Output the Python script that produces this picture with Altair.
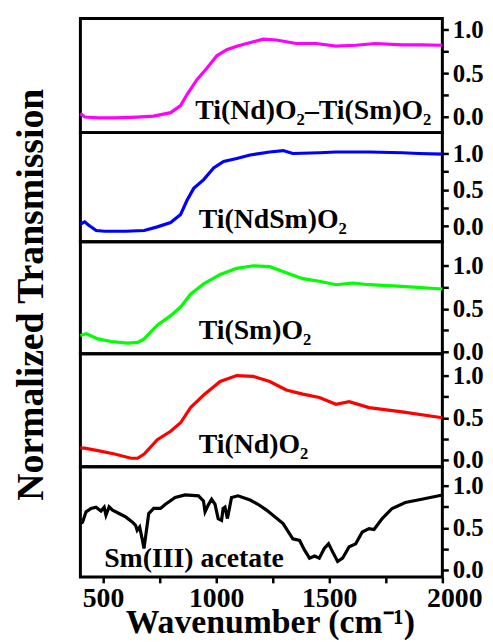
import altair as alt
import pandas as pd

FONT = "Liberation Serif, Times New Roman, Times, serif"

# ---- data ----
wn_mag = [400, 420, 480, 550, 650, 724, 799, 843, 872, 916, 960, 1003, 1047, 1091, 1164, 1208, 1267, 1354, 1442, 1530, 1617, 1705, 1822, 1909, 2000]
t_mag = [0.04, 0.0, -0.01, -0.01, 0.0, 0.01, 0.05, 0.13, 0.26, 0.43, 0.56, 0.70, 0.77, 0.81, 0.86, 0.89, 0.88, 0.84, 0.84, 0.81, 0.82, 0.84, 0.825, 0.825, 0.82]

wn_blue = [400, 419, 434, 470, 507, 600, 682, 740, 799, 843, 872, 901, 945, 989, 1033, 1091, 1150, 1237, 1296, 1339, 1456, 1530, 1676, 1822, 1895, 2000]
t_blue = [0.03, 0.06, 0.02, -0.06, -0.07, -0.07, -0.06, -0.01, 0.05, 0.16, 0.36, 0.52, 0.64, 0.80, 0.89, 0.93, 0.98, 1.02, 1.04, 1.00, 1.01, 1.02, 1.02, 1.01, 1.00, 0.99]

wn_green = [400, 426, 477, 536, 609, 653, 682, 740, 799, 843, 887, 945, 1018, 1091, 1164, 1237, 1310, 1383, 1456, 1530, 1603, 1676, 1822, 2000]
t_green = [0.19, 0.21, 0.15, 0.12, 0.10, 0.11, 0.15, 0.31, 0.42, 0.52, 0.67, 0.79, 0.90, 0.97, 1.00, 0.99, 0.92, 0.85, 0.82, 0.78, 0.80, 0.78, 0.76, 0.73]

wn_red = [400, 419, 477, 551, 624, 653, 682, 740, 799, 843, 887, 945, 1018, 1091, 1164, 1237, 1310, 1383, 1456, 1530, 1588, 1676, 1822, 2000]
t_red = [0.14, 0.14, 0.11, 0.07, 0.02, 0.02, 0.07, 0.24, 0.34, 0.44, 0.62, 0.77, 0.93, 1.00, 0.99, 0.93, 0.83, 0.78, 0.74, 0.66, 0.69, 0.62, 0.57, 0.50]

wn_blk = [400, 410, 425, 447, 469, 491, 505, 513, 527, 542, 571, 600, 629, 644, 651, 662, 673, 681, 688, 702, 724, 754, 776, 819, 863, 922, 944, 951, 965, 980, 995, 1009, 1024, 1031, 1039, 1050, 1068, 1097, 1150, 1185, 1223, 1296, 1339, 1369, 1391, 1413, 1435, 1456, 1478, 1497, 1515, 1537, 1559, 1588, 1617, 1646, 1676, 1698, 1734, 1778, 1836, 1909, 2000]
t_blk = [0.55, 0.57, 0.69, 0.73, 0.745, 0.70, 0.745, 0.65, 0.75, 0.71, 0.67, 0.63, 0.57, 0.53, 0.47, 0.51, 0.37, 0.255, 0.39, 0.67, 0.73, 0.73, 0.78, 0.86, 0.89, 0.88, 0.82, 0.69, 0.77, 0.84, 0.78, 0.61, 0.59, 0.73, 0.745, 0.61, 0.86, 0.88, 0.83, 0.78, 0.71, 0.55, 0.37, 0.35, 0.235, 0.14, 0.165, 0.14, 0.255, 0.31, 0.215, 0.10, 0.14, 0.275, 0.31, 0.45, 0.49, 0.48, 0.61, 0.73, 0.80, 0.84, 0.89]

labels = ["Ti(Nd)O\u2082\u2013Ti(Sm)O\u2082", "Ti(NdSm)O\u2082", "Ti(Sm)O\u2082", "Ti(Nd)O\u2082", "Sm(III) acetate"]
label_x = [908, 923, 923, 923, 505]
label_y = [-0.02, -0.02, 0.146, 0.086, 0.04]
colors = ["#ff00ff", "#0000ff", "#00ff00", "#ff0000", "#000000"]
y_domains = [[-0.178, 1.125], [-0.214, 1.287], [-0.023, 1.28], [-0.082, 1.259], [-0.082, 1.224]]
heights = [115, 110, 113, 114, 111]
series = [(wn_mag, t_mag), (wn_blue, t_blue), (wn_green, t_green), (wn_red, t_red), (wn_blk, t_blk)]

x_ticks = [500, 750, 1000, 1250, 1500, 1750, 2000]
y_ticks = [0.0, 0.25, 0.5, 0.75, 1.0]

yaxis = alt.Axis(
    orient="right", values=y_ticks,
    labelExpr="(datum.value == 0.25 || datum.value == 0.75) ? '' : format(datum.value, '.1f')",
    title=None, domain=False, grid=False, tickSize=6, tickWidth=2.5, tickColor="black",
    labelFont=FONT, labelFontWeight="bold", labelFontSize=25, labelColor="black",
    labelPadding=4, labelOverlap=False, labelBaseline="middle",
)

xaxis = alt.Axis(
    values=x_ticks,
    labelExpr="datum.value % 500 == 0 ? format(datum.value, 'd') : ''",
    title="Wavenumber (cm\u207b\u00b9)", titleFont=FONT, titleFontSize=34, titleFontWeight="bold",
    titleColor="black", titlePadding=-7, titleX=191,
    domain=False, grid=False, tickSize=6, tickWidth=2.5, tickColor="black",
    labelFont=FONT, labelFontWeight="bold", labelFontSize=28, labelColor="black",
    labelPadding=2, labelOverlap=False, labelFlush=False,
    labelOffset={"condition": {"test": "datum.value == 2000", "value": 12}, "value": 0},
)

panels = []
for i in range(5):
    xs, ys = series[i]
    df = pd.DataFrame({"x": xs, "y": ys})
    bottom = i == 4
    xenc = alt.X("x:Q", scale=alt.Scale(domain=[400, 2000], nice=False, zero=False),
                 axis=xaxis if bottom else None)
    yenc = alt.Y("y:Q", scale=alt.Scale(domain=y_domains[i], nice=False, zero=False), axis=yaxis)
    line = alt.Chart(df).mark_line(color=colors[i], strokeWidth=3.2).encode(x=xenc, y=yenc)
    tdf = pd.DataFrame({"x": [label_x[i]], "y": [label_y[i]], "t": [labels[i]]})
    txt = alt.Chart(tdf).mark_text(
        align="left", baseline="alphabetic", font=FONT, fontWeight="bold",
        fontSize=28, color="black",
    ).encode(x=xenc, y=yenc, text="t:N")
    panels.append(alt.layer(line, txt).properties(width=365, height=heights[i]))

chart = (
    alt.vconcat(*panels, spacing=0, bounds="flush")
    .resolve_scale(y="independent")
    .properties(
        title=alt.TitleParams(
            "Normalized Transmission", orient="left", anchor="middle", font=FONT,
            fontSize=38, fontWeight="bold", color="black", offset=22, dx=34,
        ),
        padding={"left": 5, "top": 5, "right": 0, "bottom": 0},
        background="white",
    )
    .configure_view(stroke="#000000", strokeWidth=3, strokeOpacity=1)
)

chart.save("out.html", embed_options={"renderer": "svg", "actions": False})
